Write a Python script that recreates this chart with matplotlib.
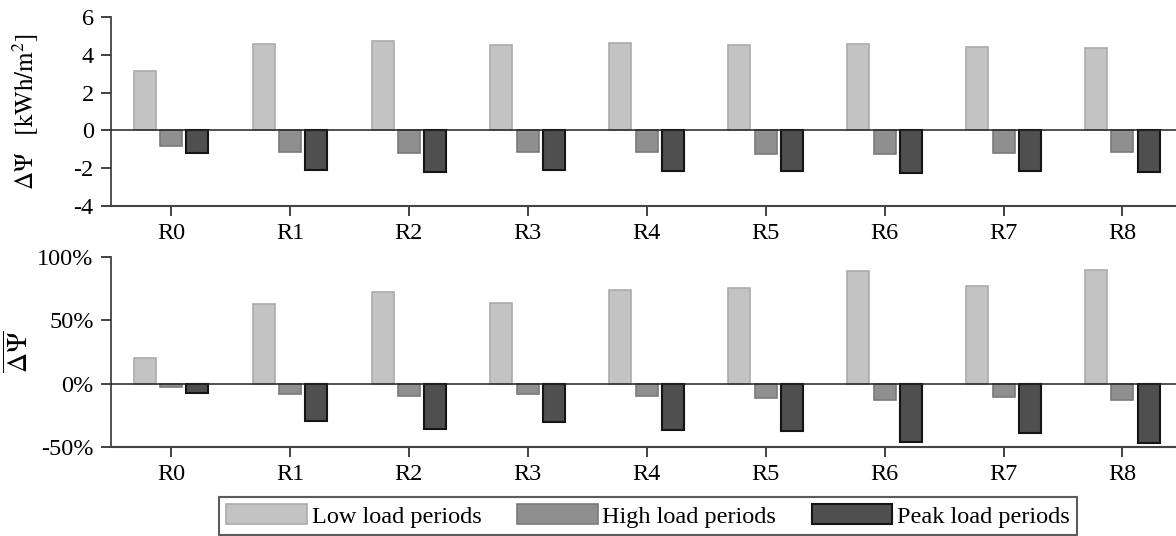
import numpy as np
import matplotlib.pyplot as plt
from matplotlib.ticker import FuncFormatter

plt.rcParams['font.family'] = ['Liberation Serif', 'DejaVu Serif']
plt.rcParams['mathtext.fontset'] = 'stix'
plt.rcParams['axes.unicode_minus'] = False

regions = ['R0', 'R1', 'R2', 'R3', 'R4', 'R5', 'R6', 'R7', 'R8']
series = ['Low load periods', 'High load periods', 'Peak load periods']

# absolute change [kWh/m2]
abs_low = [3.12, 4.59, 4.71, 4.51, 4.60, 4.50, 4.59, 4.39, 4.34]
abs_high = [-0.83, -1.16, -1.22, -1.15, -1.16, -1.27, -1.23, -1.18, -1.15]
abs_peak = [-1.18, -2.10, -2.22, -2.08, -2.17, -2.17, -2.28, -2.13, -2.22]

# relative change [%]
rel_low = [20.3, 62.6, 72.6, 63.6, 73.6, 75.8, 89.2, 76.8, 89.5]
rel_high = [-2.9, -8.2, -10.0, -8.4, -9.8, -11.0, -12.9, -10.8, -12.6]
rel_peak = [-7.6, -29.8, -35.5, -30.5, -36.9, -37.7, -46.0, -39.0, -46.6]

face = ['#c3c3c3', '#8f8f8f', '#4f4f4f']
edge = ['#acacac', '#7a7a7a', '#151515']
lws = [1.2, 1.2, 1.5]

fig = plt.figure(figsize=(11.76, 5.36), dpi=100)
ax1 = fig.add_axes([0.0944, 0.6157, 0.9056, 0.3526])
ax2 = fig.add_axes([0.0944, 0.1660, 0.9056, 0.3545])

x = np.arange(len(regions))
width = 0.185
offsets = [-0.222, 0.0, 0.222]


def draw(ax, data):
    handles = []
    for i, vals in enumerate(data):
        h = ax.bar(x + offsets[i], vals, width, color=face[i],
                   edgecolor=edge[i], linewidth=lws[i], label=series[i], zorder=2)
        handles.append(h)
    ax.axhline(0, color='#222222', lw=1.1, zorder=3)
    ax.spines['top'].set_visible(False)
    ax.spines['right'].set_visible(False)
    ax.spines['left'].set_color('#333333')
    ax.spines['bottom'].set_color('#444444')
    ax.spines['left'].set_linewidth(1.2)
    ax.spines['bottom'].set_linewidth(1.5)
    ax.set_xticks(x)
    ax.set_xticklabels(regions)
    ax.set_xlim(-0.505, 8.45)
    ax.tick_params(axis='both', labelsize=17.5, direction='out', length=7.5,
                   width=1.3, color='#333333', pad=5)
    return handles


handles = draw(ax1, [abs_low, abs_high, abs_peak])
ax1.set_ylim(-4, 6)
ax1.set_yticks([-4, -2, 0, 2, 4, 6])
ax1.set_ylabel(r'$\mathrm{\Delta\Psi}\ \ \ [\mathrm{kWh/m^2}]$', fontsize=18)
ax1.yaxis.set_label_coords(-0.066, 0.5)

draw(ax2, [rel_low, rel_high, rel_peak])
ax2.set_ylim(-50, 100)
ax2.set_yticks([-50, 0, 50, 100])
ax2.yaxis.set_major_formatter(FuncFormatter(lambda v, p: f'{v:.0f}%'))
ax2.set_ylabel(r'$\overline{\mathrm{\Delta\Psi}}$', fontsize=20)
ax2.yaxis.set_label_coords(-0.072, 0.5)

leg = fig.legend(handles, series, loc='lower center', ncol=3,
                 bbox_to_anchor=(0.551, 0.002), fontsize=17.5, frameon=True,
                 fancybox=False, handlelength=3.33, handleheight=0.86,
                 columnspacing=1.45, handletextpad=0.2, borderpad=0.3,
                 borderaxespad=0.0)
leg.get_frame().set_edgecolor('#333333')
leg.get_frame().set_linewidth(1.5)

fig.savefig('out.png', dpi=100)
